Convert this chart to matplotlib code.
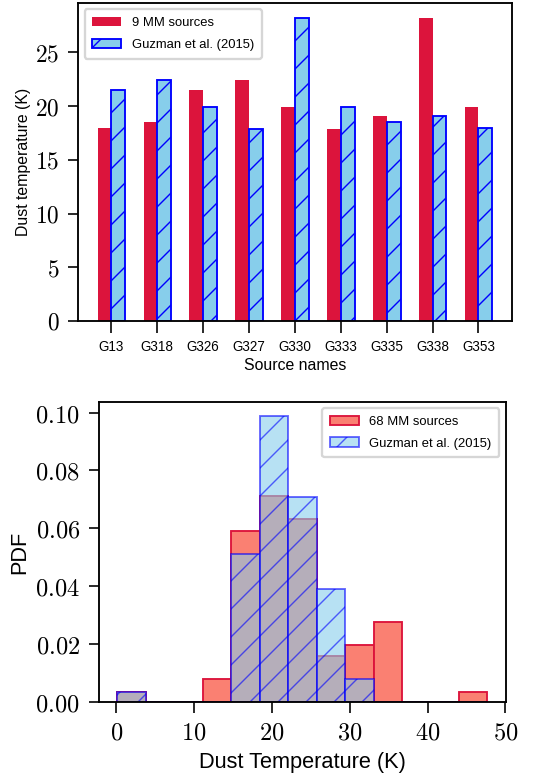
import numpy as np
import matplotlib
matplotlib.use("Agg")
import matplotlib.pyplot as plt
from matplotlib.ticker import FormatStrFormatter

# ===================================================
# Data
# ===================================================

sources = ["G13", "G318", "G326", "G327", "G330", "G333", "G335", "G338", "G353"]
t_mm9 = [18.0, 18.5, 21.5, 22.4, 19.9, 17.9, 19.1, 28.2, 19.9]
t_guzman9 = [21.5, 22.4, 19.9, 17.9, 28.2, 19.9, 18.5, 19.1, 18.0]

# histogram bin edges and PDF values
bin_edges = np.linspace(0.1, 47.7, 14)
pdf_mm68 = [0.0037, 0.0, 0.0, 0.0079, 0.0592, 0.0711, 0.0634,
            0.0159, 0.0198, 0.0276, 0.0, 0.0, 0.0037]
pdf_guzman = [0.0037, 0.0, 0.0, 0.0, 0.0513, 0.0988, 0.0709,
              0.0392, 0.0079, 0.0, 0.0, 0.0, 0.0]

pdf_ticks = [0.0, 0.02, 0.04, 0.06, 0.08, 0.10]
temp_ticks = [0, 10, 20, 30, 40, 50]

# ===================================================
# Style
# ===================================================

DPI = 168
plt.rcParams["font.family"] = ["Liberation Sans", "DejaVu Sans"]
plt.rcParams["mathtext.fontset"] = "cm"
plt.rcParams["hatch.linewidth"] = 0.6
plt.rcParams["axes.linewidth"] = 0.8

fig = plt.figure(figsize=(536 / DPI, 780 / DPI), dpi=DPI)

legend_kw = dict(fontsize=5.6, labelspacing=0.7, borderpad=0.6,
                 handlelength=2.2)

# ===================================================
# Top panel: bar chart
# ===================================================

ax1 = fig.add_axes([0.1455, 0.5885, 0.8097, 0.4077])
x = np.arange(len(sources))
w = 0.3

ax1.bar(x - w / 2, t_mm9, w, color="crimson", label="9 MM sources")
ax1.bar(x + w / 2, t_guzman9, w, color="skyblue", edgecolor="blue",
        linewidth=0.8, hatch="//", label="Guzman et al. (2015)")

ax1.set_xticks(x)
ax1.set_xticklabels(sources, fontsize=5.8)
ax1.yaxis.set_major_formatter(FormatStrFormatter(r"$%d$"))
ax1.tick_params(axis="y", labelsize=10, length=4.5, width=0.7)
ax1.tick_params(axis="x", length=5, width=0.7, pad=3)
ax1.set_xlabel("Source names", fontsize=6.8, labelpad=2)
ax1.set_ylabel("Dust temperature (K)", fontsize=6.8, labelpad=1.5)
ax1.legend(loc="upper left", **legend_kw)

# ===================================================
# Bottom panel: histogram
# ===================================================

ax2 = fig.add_axes([0.1841, 0.0996, 0.7599, 0.3854])

ax2.hist(bin_edges[:-1], bins=bin_edges, weights=pdf_mm68,
         facecolor="salmon", edgecolor="crimson", linewidth=0.8,
         label="68 MM sources")
ax2.hist(bin_edges[:-1], bins=bin_edges, weights=pdf_guzman,
         facecolor="skyblue", edgecolor="blue", linewidth=0.8, alpha=0.6,
         hatch="//", label="Guzman et al. (2015)")

ax2.set_xticks(temp_ticks)
ax2.set_yticks(pdf_ticks)
ax2.xaxis.set_major_formatter(FormatStrFormatter(r"$%d$"))
ax2.yaxis.set_major_formatter(FormatStrFormatter(r"$%.2f$"))
ax2.tick_params(labelsize=10.5, length=4.5, width=0.7)
ax2.set_xlabel("Dust Temperature (K)", fontsize=9.3, labelpad=3)
ax2.set_ylabel("PDF", fontsize=9.3, labelpad=2)
ax2.legend(loc="upper right", **legend_kw)

fig.savefig("out.png", dpi=DPI)
